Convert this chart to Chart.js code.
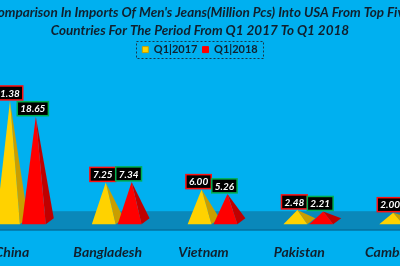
<!DOCTYPE html>
<html>
<head>
<meta charset="utf-8">
<script src="https://cdn.jsdelivr.net/npm/chart.js@4.4.1/dist/chart.umd.min.js"></script>
<style>
  html, body { margin: 0; padding: 0; background: #00B0F0; overflow: hidden; }
  #wrap { position: absolute; left: -60px; top: 0; width: 520px; height: 287px; }
</style>
</head>
<body>
<div id="wrap"><canvas id="jeansChart" width="520" height="287"></canvas></div>
<script>
const countries = ["China", "Bangladesh", "Vietnam", "Pakistan", "Cambodia"];
const q1_2017 = [21.38, 7.25, 6.00, 2.48, 2.00];
const q1_2018 = [18.65, 7.34, 5.26, 2.21, 1.95];
const seriesNames = ["Q1|2017", "Q1|2018"];

const frontColors = ["#FFD200", "#FF0000"];
const sideColors = ["#C99E00", "#C00000"];
const labelBorders = ["#FF1010", "#00B050"];

// draws each bar as a 3D-ish pyramid on a floor band
const pyramidPlugin = {
  id: "pyramids",
  beforeDatasetsDraw(chart) {
    const ctx = chart.ctx;
    const base = chart.scales.y.getPixelForValue(0);
    ctx.save();
    ctx.fillStyle = "#0A88BA";
    ctx.fillRect(0, base - 13, chart.width, 19);
    ctx.fillStyle = "#05719F";
    ctx.fillRect(0, base + 5, chart.width, 1.5);

    chart.data.datasets.forEach((ds, di) => {
      const meta = chart.getDatasetMeta(di);
      meta.data.forEach((bar) => {
        const half = bar.width / 2;
        const left = bar.x - half + 1;
        const right = bar.x + half - 1;
        const ax = bar.x + 2;
        const ay = bar.y;
        ctx.fillStyle = sideColors[di];
        ctx.beginPath();
        ctx.moveTo(ax, ay);
        ctx.lineTo(right, base);
        ctx.lineTo(right + 8, base - 6);
        ctx.closePath();
        ctx.fill();
        ctx.fillStyle = frontColors[di];
        ctx.beginPath();
        ctx.moveTo(ax, ay);
        ctx.lineTo(left, base);
        ctx.lineTo(right, base);
        ctx.closePath();
        ctx.fill();
      });
    });
    ctx.restore();
    return false;
  },
  afterDraw(chart) {
    const ctx = chart.ctx;
    ctx.save();
    // value boxes
    ctx.font = "italic bold 10px Lato";
    ctx.textAlign = "center";
    ctx.textBaseline = "middle";
    chart.data.datasets.forEach((ds, di) => {
      const meta = chart.getDatasetMeta(di);
      meta.data.forEach((bar, i) => {
        const text = ds.data[i].toFixed(2);
        const bw = ctx.measureText(text).width + 6;
        const bh = 14;
        const cx = bar.x - 1;
        const top = bar.y - 1 - bh;
        ctx.fillStyle = "#000";
        ctx.fillRect(cx - bw / 2, top, bw, bh);
        ctx.strokeStyle = labelBorders[di];
        ctx.lineWidth = 1.5;
        ctx.strokeRect(cx - bw / 2, top, bw, bh);
        ctx.fillStyle = "#fff";
        ctx.fillText(text, cx, top + bh / 2 + 0.5);
      });
    });
    // dashed frame round the legend
    const boxes = chart.legend.legendHitBoxes;
    if (boxes && boxes.length) {
      const x0 = Math.min(...boxes.map((b) => b.left)) - 6;
      const x1 = Math.max(...boxes.map((b) => b.left + b.width)) + 6;
      const y0 = Math.min(...boxes.map((b) => b.top)) - 3;
      const y1 = Math.max(...boxes.map((b) => b.top + b.height)) + 3;
      ctx.setLineDash([2, 2]);
      ctx.strokeStyle = "#1B3547";
      ctx.lineWidth = 1;
      ctx.strokeRect(Math.round(x0) + 0.5, Math.round(y0) + 0.5, Math.round(x1 - x0), Math.round(y1 - y0));
    }
    ctx.restore();
  }
};

const ctx = document.getElementById("jeansChart").getContext("2d");
new Chart(ctx, {
  type: "bar",
  data: {
    labels: countries,
    datasets: [
      {
        label: seriesNames[0],
        data: q1_2017,
        backgroundColor: frontColors[0],
        borderColor: sideColors[0],
        borderWidth: 1,
        barPercentage: 1,
        categoryPercentage: 0.54,
      },
      {
        label: seriesNames[1],
        data: q1_2018,
        backgroundColor: frontColors[1],
        borderColor: "#FF0000",
        borderWidth: 1,
        barPercentage: 1,
        categoryPercentage: 0.54,
      },
    ],
  },
  options: {
    responsive: false,
    animation: false,
    layout: { padding: { left: 8, right: 8, top: 0, bottom: 6 } },
    plugins: {
      title: {
        display: true,
        text: [
          "Comparison In Imports Of Men's Jeans(Million Pcs) Into USA From Top Five",
          "Countries For The Period From Q1 2017 To Q1 2018",
        ],
        color: "#10202E",
        font: { family: "Lato", size: 13.5, weight: "bold", style: "italic", lineHeight: 1.3 },
        padding: { top: 4, bottom: 0 },
      },
      legend: {
        position: "top",
        labels: {
          boxWidth: 6,
          boxHeight: 6,
          padding: 5,
          color: "#10202E",
          font: { family: "Lato", size: 11, weight: "bold" },
        },
      },
      tooltip: { enabled: false },
    },
    scales: {
      x: {
        grid: { display: false, drawTicks: false },
        border: { display: false },
        ticks: {
          padding: 20,
          labelOffset: -9,
          color: "#10202E",
          font: { family: "Lato", size: 14, weight: "bold", style: "italic" },
        },
      },
      y: {
        min: 0,
        max: 27.6,
        grid: { display: false, drawTicks: false },
        border: { display: false },
        ticks: { display: false },
        afterFit(scale) {
          scale.width = 25;
        },
      },
    },
  },
  plugins: [pyramidPlugin],
});
</script>
</body>
</html>
